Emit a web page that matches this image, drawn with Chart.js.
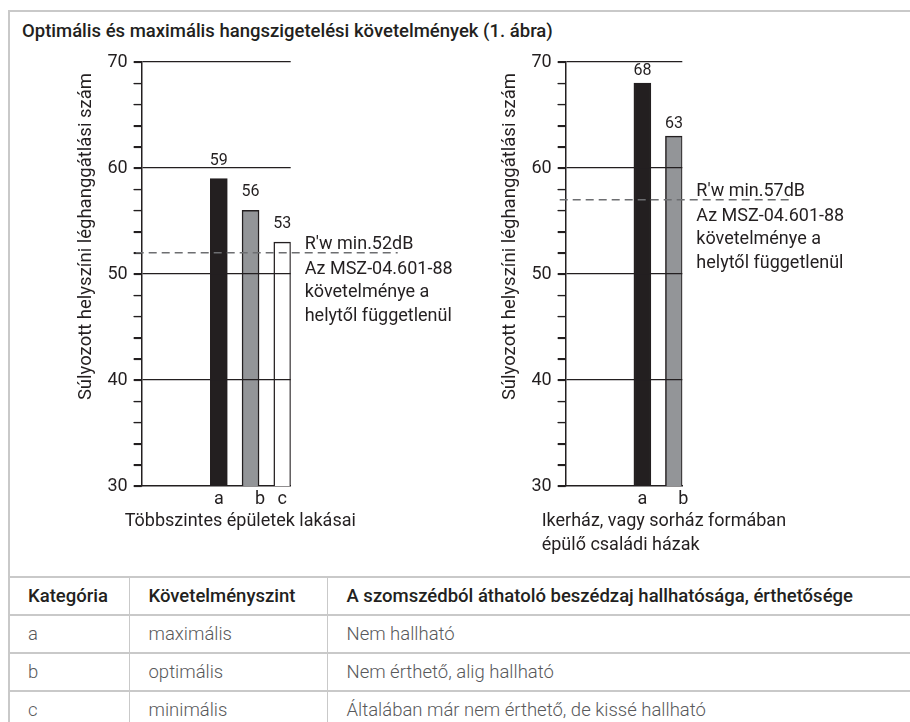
<!DOCTYPE html>
<html>
<head>
<meta charset="utf-8">
<script src="https://cdn.jsdelivr.net/npm/chart.js@4/dist/chart.umd.min.js"></script>
<style>
  body { margin: 0; background: #fff; font-family: Roboto, sans-serif; color: #231f20; }
  #frame { position: absolute; left: 8px; top: 10px; width: 920px; height: 730px;
           border-left: 2px solid #c9c9c9; border-top: 2px solid #c9c9c9; }
  #title { position: absolute; left: 22px; top: 20px; font-size: 18.5px; font-weight: 500; white-space: nowrap; }
  .box { position: absolute; top: 40px; height: 530px; }
  #boxA { left: 20px; width: 480px; }
  #boxB { left: 450px; width: 460px; }
  table { position: absolute; left: 9px; top: 576px; width: 920px; border-collapse: collapse; }
  td, th { height: 36px; padding: 0 0 0 19px; text-align: left; font-size: 18.5px;
           border-top: 2px solid #c9c9c9; border-bottom: 2px solid #c9c9c9; white-space: nowrap; }
  th { font-weight: 500; color: #231f20; }
  td { font-weight: 300; color: #58595b; }
  td + td, th + th { border-left: 1.5px solid #c9c9c9; }
</style>
</head>
<body>
<div id="frame"></div>
<div id="title">Optimális és maximális hangszigetelési követelmények (1. ábra)</div>
<div class="box" id="boxB"><canvas id="chartB"></canvas></div>
<div class="box" id="boxA"><canvas id="chartA"></canvas></div>
<table>
  <colgroup><col style="width:120px"><col style="width:198px"><col></colgroup>
  <tr><th>Kategória</th><th>Követelményszint</th><th>A szomszédból áthatoló beszédzaj hallhatósága, érthetősége</th></tr>
  <tr><td>a</td><td>maximális</td><td>Nem hallható</td></tr>
  <tr><td>b</td><td>optimális</td><td>Nem érthető, alig hallható</td></tr>
  <tr><td>c</td><td>minimális</td><td>Általában már nem érthető, de kissé hallható</td></tr>
</table>

<script>
// left chart: flats in multi-storey buildings
var catsA = ['a', 'b', 'c'];
var valsA = [59, 56, 53];
var refA = 52;
var captionA = ['Többszintes épületek lakásai'];

// right chart: semi-detached / terraced family houses
var catsB = ['a', 'b'];
var valsB = [68, 63];
var refB = 57;
var captionB = ['Ikerház, vagy sorház formában', 'épülő családi házak'];

var yTicks = [30, 40, 50, 60, 70];
var yTitle = 'Súlyozott helyszíni léghanggátlási szám';
var refNote = ['Az MSZ-04.601-88', 'követelménye a', 'helytől függetlenül'];

var ink = '#231f20';
var fills = ['#231f20', '#939598', '#ffffff'];

// axis title, minor ticks, bar values, dashed limit line and captions
var notes = {
    id: 'notes',
    afterDraw: function (chart, args, o) {
        var ctx = chart.ctx;
        var area = chart.chartArea;
        var y = chart.scales.y;
        ctx.save();
        ctx.fillStyle = ink;

        // short marks every 2 units on the left of the axis
        ctx.strokeStyle = ink;
        ctx.lineWidth = 1.2;
        y.ticks.forEach(function (t) {
            var py = Math.round(y.getPixelForValue(t.value)) + 0.5;
            ctx.beginPath();
            ctx.moveTo(area.left - 8, py);
            ctx.lineTo(area.left, py);
            ctx.stroke();
        });

        ctx.save();
        ctx.font = '18.5px Roboto';
        ctx.translate(area.left - 55, area.top + 11);
        ctx.rotate(-Math.PI / 2);
        ctx.textAlign = 'right';
        ctx.textBaseline = 'middle';
        ctx.fillText(yTitle, 0, 0);
        ctx.restore();

        ctx.font = '16px Roboto';
        ctx.textAlign = 'center';
        ctx.textBaseline = 'alphabetic';
        chart.getDatasetMeta(0).data.forEach(function (bar, i) {
            ctx.fillText(chart.data.datasets[0].data[i].y, bar.x, bar.y - o.gap);
        });

        var ry = y.getPixelForValue(o.ref);
        ctx.strokeStyle = '#6d6e71';
        ctx.lineWidth = 1.5;
        ctx.setLineDash([8, 5]);
        ctx.beginPath();
        ctx.moveTo(area.left - 6, ry);
        ctx.lineTo(area.right + 107, ry);
        ctx.stroke();
        ctx.setLineDash([]);

        ctx.font = '18px Roboto';
        ctx.textAlign = 'left';
        ctx.fillText("R'w min." + o.ref + 'dB', area.right + 14, ry - 4);
        refNote.forEach(function (t, k) {
            ctx.fillText(t, area.right + 14, ry + 21 + k * 23.5);
        });

        ctx.font = '18px Roboto';
        o.caption.forEach(function (t, k) {
            ctx.fillText(t, area.left + o.captionDx, area.bottom + 40 + k * 24);
        });
        ctx.restore();
    }
};

function makeChart(id, cats, vals, ref, caption, opts) {
    var points = vals.map(function (v, i) { return { x: i, y: v }; });
    return new Chart(document.getElementById(id), {
        type: 'bar',
        data: {
            datasets: [{
                data: points,
                backgroundColor: fills.slice(0, vals.length),
                borderColor: ink,
                borderWidth: 1.5,
                barThickness: 17
            }]
        },
        options: {
            responsive: true,
            maintainAspectRatio: false,
            animation: false,
            layout: { padding: { left: 0, right: opts.padRight, top: 22, bottom: 54 } },
            plugins: {
                legend: { display: false },
                tooltip: { enabled: false },
                notes: { ref: ref, caption: caption, gap: opts.gap, captionDx: opts.captionDx }
            },
            scales: {
                x: {
                    type: 'linear',
                    offset: false,
                    min: -2.43,
                    max: cats.length - 1 + 0.265,
                    afterBuildTicks: function (s) {
                        // the "b" letter sits a little right of its bar
                        s.ticks = cats.map(function (c, i) { return { value: i + (c === 'b' ? 0.3 : 0) }; });
                    },
                    afterFit: function (s) { s.height = 30; },
                    grid: { display: false, drawTicks: false },
                    border: { display: true, color: ink, width: 1.5 },
                    ticks: {
                        autoSkip: false, maxRotation: 0, padding: 3,
                        color: ink, font: { family: 'Roboto', size: 18 },
                        callback: function (v, i) { return cats[i]; }
                    }
                },
                y: {
                    min: yTicks[0],
                    max: yTicks[yTicks.length - 1],
                    afterFit: function (s) { s.width = opts.axisWidth; },
                    border: { display: true, color: ink, width: 1.5, z: 1 },
                    grid: {
                        z: 1,
                        lineWidth: 1.2,
                        tickLength: 8,
                        tickColor: ink,
                        tickWidth: 1.2,
                        color: function (c) {
                            var v = c.tick ? c.tick.value : 0;
                            return (yTicks.indexOf(v) > 0) ? ink : 'rgba(0,0,0,0)';
                        }
                    },
                    ticks: {
                        stepSize: 2,
                        maxTicksLimit: 50,
                        autoSkip: false,
                        padding: 6,
                        color: ink,
                        font: { family: 'Roboto', size: 18 },
                        callback: function (v) { return yTicks.indexOf(v) >= 0 ? v : ''; }
                    }
                }
            }
        },
        plugins: [notes]
    });
}

makeChart('chartA', catsA, valsA, refA, captionA, { padRight: 209.3, axisWidth: 121.7, gap: 14, captionDx: -17 });
makeChart('chartB', catsB, valsB, refB, captionB, { padRight: 227.7, axisWidth: 115.7, gap: 8.5, captionDx: -24 });
</script>
</body>
</html>
